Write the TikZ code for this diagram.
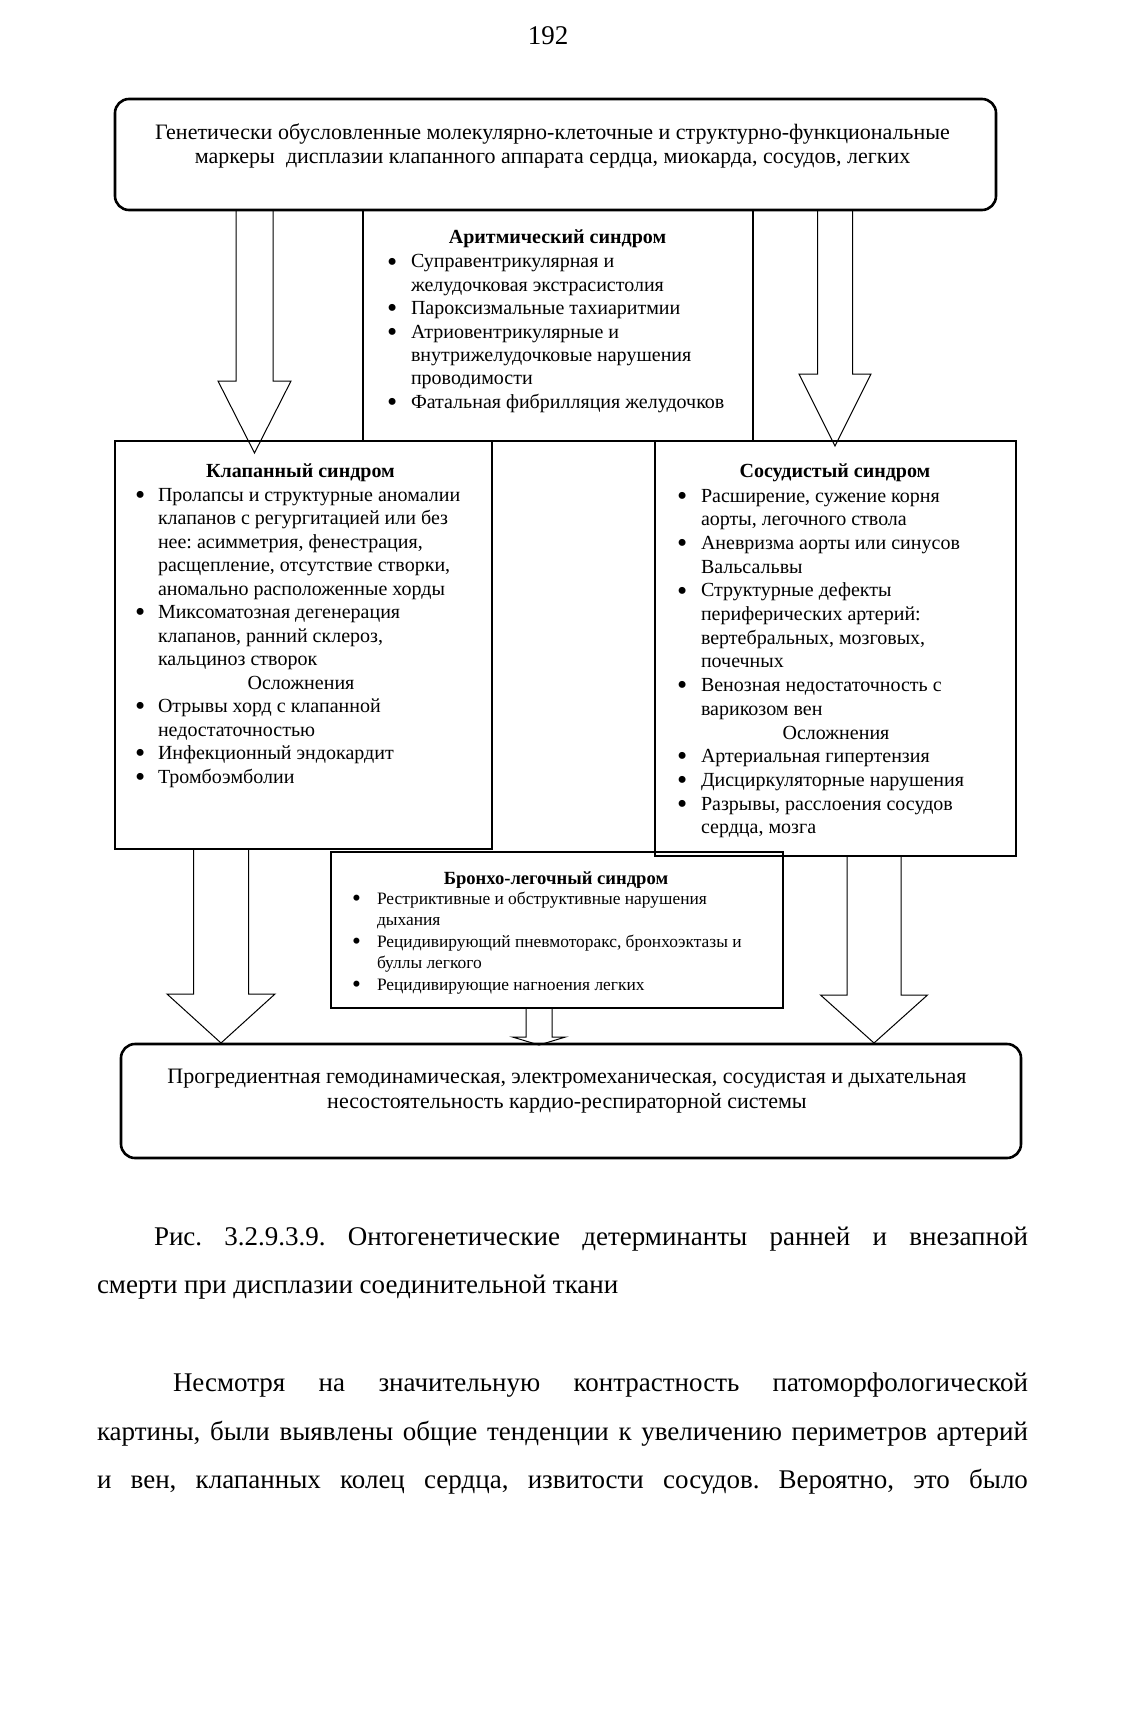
\documentclass[tikz,border=0pt]{standalone}
\usepackage{fontspec}
\setmainfont{Liberation Serif}
\usetikzlibrary{calc}
\frenchspacing
\newcommand\bul{\raisebox{-0.16em}{\scalebox{1.45}{•}}}
\newcommand\blockarrow[5]{%
  \draw[arrowline] ($(#1)+(-#3,0)$) -- ($(#2)+(-#3,-#5)$) -- ($(#2)+(-#4,-#5)$) -- (#2) -- ($(#2)+(#4,-#5)$) -- ($(#2)+(#3,-#5)$) -- ($(#1)+(#3,0)$);}
\begin{document}
\begin{tikzpicture}[x=0.5pt,y=-0.5pt,
  rbox/.style={draw, line width=1.3pt, rounded corners=7pt, inner sep=0pt, outer sep=0pt, anchor=north west},
  sbox/.style={draw, line width=0.75pt, inner sep=0pt, outer sep=0pt, anchor=north west},
  arrowline/.style={line width=0.5pt, line join=miter},
  txt/.style={inner sep=0pt, outer sep=0pt},
  boxfont/.style={font=\fontsize{11}{12}\selectfont},
  listfont/.style={font=\fontsize{10}{11.75}\selectfont},
  titlefont/.style={font=\fontsize{10}{12}\selectfont\bfseries},
  capfont/.style={font=\fontsize{13.5}{16}\selectfont},
]
\useasboundingbox (0,0) rectangle (1125,1722);
\fill[white] (0,0) rectangle (1125,1722);

% boxes
\node[sbox, minimum width=195pt, minimum height=115.5pt] (aritm) at (363,210) {};
\node[rbox, minimum width=440.5pt, minimum height=55.5pt] (top) at (115,99) {};
\node[sbox, minimum width=188.5pt, minimum height=204pt] (klap) at (115,441) {};
\node[sbox, minimum width=180.5pt, minimum height=207.5pt] (sosud) at (655,441) {};
\node[sbox, minimum width=226pt, minimum height=78pt] (bronch) at (331,852) {};
\node[rbox, minimum width=450pt, minimum height=57pt] (bottom) at (121,1044) {};

% page number
\node[txt, anchor=base, capfont] (pnum) at (548,45) {192};

% top text
\node[txt, anchor=base, boxfont] (toptext) at (552.5,140) {\begin{tabular}[t]{@{}c@{}}Генетически обусловленные молекулярно-клеточные и структурно-функциональные\\маркеры\ \ дисплазии клапанного аппарата сердца, миокарда, сосудов, легких\end{tabular}};

% aritm
\node[txt, anchor=base, titlefont] (aritmtitle) at (557.5,244) {Аритмический синдром};
\node[txt, anchor=base west, font=\fontsize{10}{11.67}\selectfont] (aritmlist) at (387,268) {\begin{tabular}[t]{@{}p{12pt}@{}l@{}}
\bul& Суправентрикулярная и\\
 & желудочковая экстрасистолия\\
\bul& Пароксизмальные тахиаритмии\\
\bul& Атриовентрикулярные и\\
 & внутрижелудочковые нарушения\\
 & проводимости\\
\bul& Фатальная фибрилляция желудочков
\end{tabular}};

% klap
\node[txt, anchor=base, titlefont] (klaptitle) at (300.5,477) {Клапанный синдром};
\node[txt, anchor=base west, listfont] (klaplist) at (135,501) {\begin{tabular}[t]{@{}p{11.5pt}@{}l@{}}
\bul& Пролапсы и структурные аномалии\\
 & клапанов с регургитацией или без\\
 & нее: асимметрия, фенестрация,\\
 & расщепление, отсутствие створки,\\
 & аномально расположенные хорды\\
\bul& Миксоматозная дегенерация\\
 & клапанов, ранний склероз,\\
 & кальциноз створок\\
\multicolumn{2}{@{}l@{}}{\makebox[166pt]{Осложнения}}\\
\bul& Отрывы хорд с клапанной\\
 & недостаточностью\\
\bul& Инфекционный эндокардит\\
\bul& Тромбоэмболии
\end{tabular}};

% sosud
\node[txt, anchor=base, titlefont] (sosudtitle) at (835,477) {Сосудистый синдром};
\node[txt, anchor=base west, font=\fontsize{10}{11.85}\selectfont] (sosudlist) at (677,502) {\begin{tabular}[t]{@{}p{12pt}@{}l@{}}
\bul& Расширение, сужение корня\\
 & аорты, легочного ствола\\
\bul& Аневризма аорты или синусов\\
 & Вальсальвы\\
\bul& Структурные дефекты\\
 & периферических артерий:\\
 & вертебральных, мозговых,\\
 & почечных\\
\bul& Венозная недостаточность с\\
 & варикозом вен\\
\multicolumn{2}{@{}l@{}}{\makebox[159pt]{Осложнения}}\\
\bul& Артериальная гипертензия\\
\bul& Дисциркуляторные нарушения\\
\bul& Разрывы, расслоения сосудов\\
 & сердца, мозга
\end{tabular}};

% bronch
\node[txt, anchor=base, font=\fontsize{9.3}{11}\selectfont\bfseries] (bronchtitle) at (556,884) {Бронхо-легочный синдром};
\node[txt, anchor=base west, font=\fontsize{8.7}{10.75}\selectfont] (bronchlist) at (352,904) {\begin{tabular}[t]{@{}p{12.5pt}@{}l@{}}
\bul& Рестриктивные и обструктивные нарушения\\
 & дыхания\\
\bul& Рецидивирующий пневмоторакс, бронхоэктазы и\\
 & буллы легкого\\
\bul& Рецидивирующие нагноения легких
\end{tabular}};

% bottom text
\node[txt, anchor=base, font=\fontsize{11}{12.5}\selectfont] (bottomtext) at (567,1083) {\begin{tabular}[t]{@{}c@{}}Прогредиентная гемодинамическая, электромеханическая, сосудистая и дыхательная\\несостоятельность кардио-респираторной системы\end{tabular}};

% arrows
\coordinate (a1x) at (254.5,0);
\coordinate (a2x) at (835,0);
\coordinate (a3x) at (221,0);
\coordinate (a4x) at (874,0);
\coordinate (a5x) at (539,0);
\coordinate (a1s) at (top.south -| a1x);
\coordinate (a1t) at ($(klap.north -| a1x)+(0,12)$);
\coordinate (a2s) at (top.south -| a2x);
\coordinate (a2t) at ($(sosud.north -| a2x)+(0,5)$);
\coordinate (a3s) at (klap.south -| a3x);
\coordinate (a3t) at ($(bottom.north -| a3x)+(0,-1)$);
\coordinate (a4s) at (sosud.south -| a4x);
\coordinate (a4t) at ($(bottom.north -| a4x)+(0,-1)$);
\coordinate (a5s) at (bronch.south -| a5x);
\coordinate (a5t) at ($(bottom.north -| a5x)+(0,1)$);
\blockarrow{a1s}{a1t}{18.5}{36.5}{72}
\blockarrow{a2s}{a2t}{17.5}{36}{72}
\blockarrow{a3s}{a3t}{27.5}{54}{49}
\blockarrow{a4s}{a4t}{27}{53.5}{48}
\blockarrow{a5s}{a5t}{13}{26.5}{8}

% caption and paragraph
\node[txt, anchor=base west, capfont] (cap1) at (154,1245) {\makebox[437pt][s]{Рис. 3.2.9.3.9. Онтогенетические детерминанты ранней и внезапной}};
\node[txt, anchor=base west, capfont] (cap2) at (97,1293) {смерти при дисплазии соединительной ткани};
\node[txt, anchor=base west, capfont] (par1) at (173,1391) {\makebox[427.5pt][s]{Несмотря на значительную контрастность патоморфологической}};
\node[txt, anchor=base west, capfont] (par2) at (97,1440) {\makebox[465.5pt][s]{картины, были выявлены общие тенденции к увеличению периметров артерий}};
\node[txt, anchor=base west, capfont] (par3) at (97,1488) {\makebox[465.5pt][s]{и вен, клапанных колец сердца, извитости сосудов. Вероятно, это было}};
\end{tikzpicture}
\end{document}
